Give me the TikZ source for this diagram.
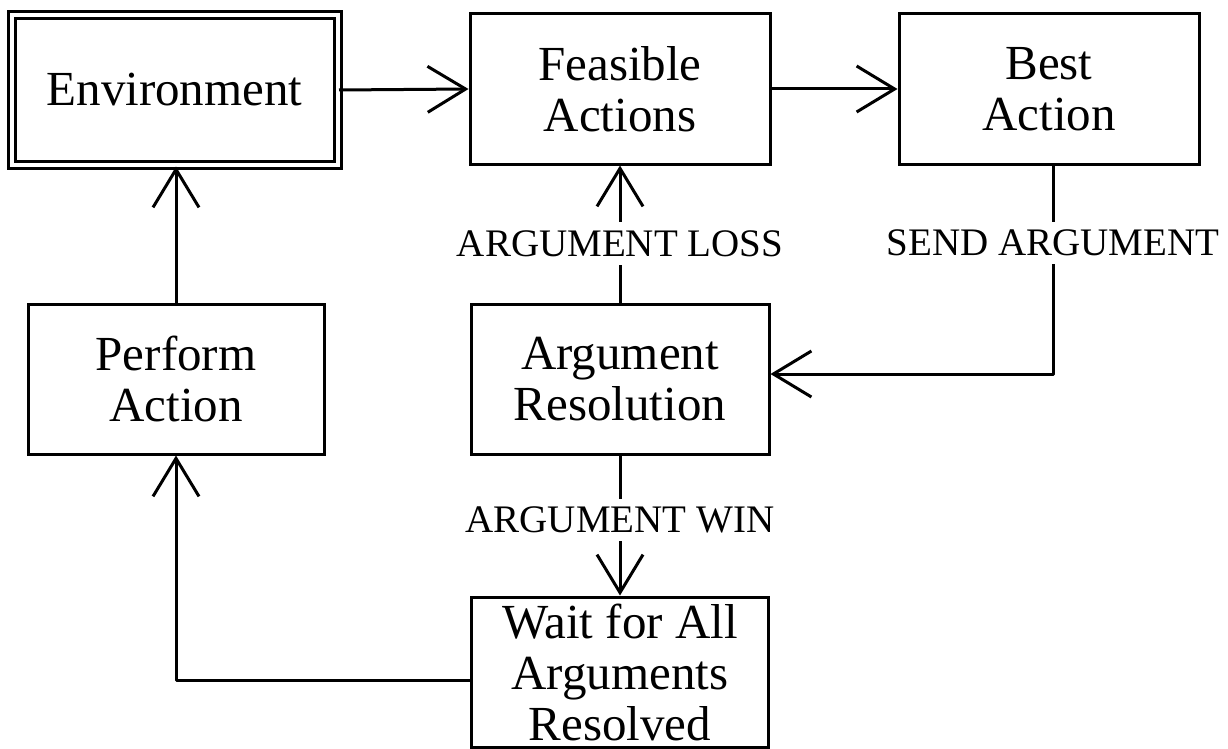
\documentclass[tikz,border=0pt]{standalone}
\usepackage{fontspec}
\setmainfont{Liberation Serif}
\usetikzlibrary{arrows.meta}
\begin{document}
\begin{tikzpicture}[x=1pt,y=-1pt,
  box/.style={draw, line width=3pt, minimum height=150pt, align=center,
    font=\fontsize{49}{51}\selectfont, inner sep=0pt},
  lbl/.style={fill=white, font=\fontsize{39}{44}\selectfont, inner xsep=2pt, inner ysep=8pt},
  arr/.style={line width=3pt, line join=round, -{Straight Barb[length=38pt,width=46pt]}},
  ln/.style={line width=3pt}]
\useasboundingbox (0,0) rectangle (1228,749);
\node[box, double, double distance=4pt, minimum width=326pt, minimum height=150pt] (env) at (174.5,90) {Environment};
\node[box, minimum width=300pt] (feas) at (620,89) {Feasible\\Actions};
\node[box, minimum width=300pt] (best) at (1049,89) {Best\\Action};
\node[box, minimum width=296pt] (perf) at (176,379) {Perform\\Action};
\node[box, minimum width=298pt] (ar) at (620,379) {Argument\\Resolution};
\node[box, minimum width=297pt] (wait) at (620,672) {Wait for All\\Arguments\\Resolved};

\draw[arr] (env.east) -- (feas.west);
\draw[arr] (feas.east) -- (best.west);
\draw[arr] (ar.north) -- node[lbl, pos=0.43] (lloss) {ARGUMENT LOSS} (feas.south);
\draw[arr] ([xshift=4pt]best.south) |- node[lbl, pos=0.186] (lsend) {SEND ARGUMENT} ([yshift=5pt]ar.east);
\draw[arr] (ar.south) -- node[lbl, pos=0.46] (lwin) {ARGUMENT WIN} (wait.north);
\draw[arr] ([yshift=-8pt]wait.west) -| (perf.south);
\draw[arr] (perf.north) -- (perf.north |- env.south);
\end{tikzpicture}
\end{document}
